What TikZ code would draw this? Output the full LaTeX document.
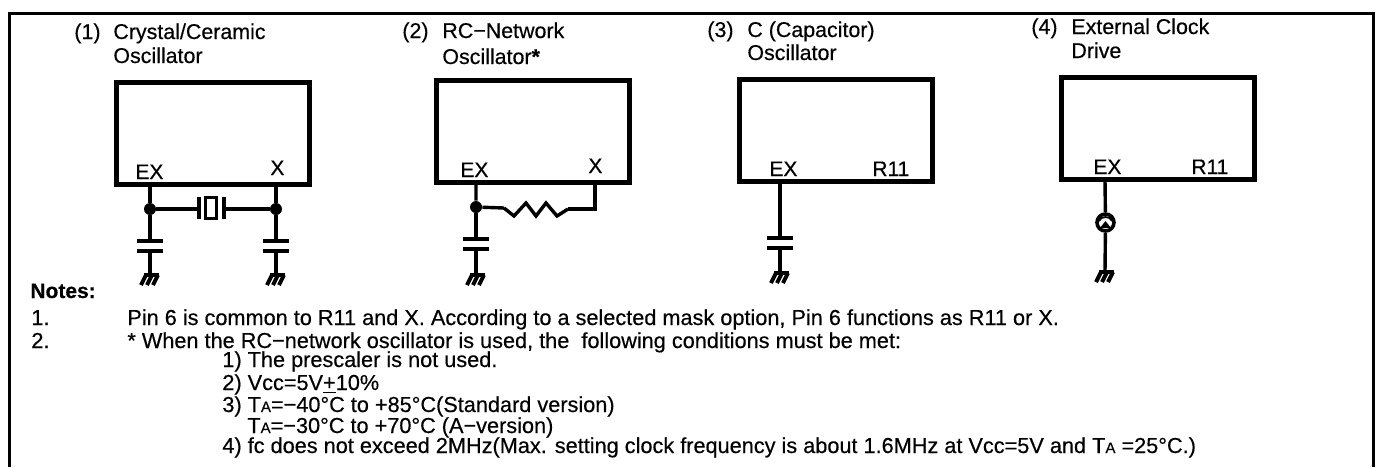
\documentclass[tikz,border=0pt]{standalone}
\usepackage{fontspec}
\setmainfont{Liberation Sans}[RawFeature={embolden=0.4}]
\tikzset{
  chipbox/.style={draw,rectangle,line width=2.5pt,inner sep=0pt,minimum width=96.5pt,minimum height=51pt},
  wire/.style={line width=1.7pt},
  plateline/.style={line width=2pt},
  junction/.style={circle,fill=black,inner sep=0pt,minimum size=6pt},
  titletext/.style={anchor=base west,inner sep=0pt,font=\fontsize{10.7}{13}\selectfont},
  pintext/.style={anchor=base west,inner sep=0pt,font=\fontsize{10.5}{13}\selectfont},
  notetext/.style={anchor=base west,inner sep=0pt,font=\fontsize{10.85}{12}\selectfont},
  pics/capplate/.style={code={\draw[plateline] (-13,0) -- (13,0);}},
  pics/earth/.style={code={
    \draw[plateline] (-6,0) -- (9,0);
    \foreach \dx in {-4,2,8} \draw[plateline] (\dx,0) -- ++(-5,10);
  }}
}
\newcommand{\tasub}{T{\fontsize{7.5}{8}\selectfont A}}
\begin{document}
\begin{tikzpicture}[x=0.5pt,y=-0.5pt]
    \useasboundingbox (0,0) rectangle (1377,467);
    \draw[line width=1.5pt] (9,467) -- (9,13) -- (1373,13) -- (1373,467);

    \node[titletext] (numA) at (74,39) {(1)};
    \node[titletext] (titleA) at (113,39) {Crystal/Ceramic};
    \node[titletext] (subA) at (113,63) {Oscillator};
    \node[chipbox] (chipA) at (212.5,133) {};
    \node[pintext] (pinExA) at (135,179) {EX};
    \node[pintext] (pinXA) at (270,175) {X};
    \coordinate (exA) at (150,184);
    \coordinate (xA) at (276,184);
    \node[junction] (dotA) at (150,209) {};
    \node[junction] (dotB) at (276,209) {};
    \coordinate (plateLA) at (199,209);
    \coordinate (plateRA) at (224,209);
    \node[draw,rectangle,line width=1.5pt,inner sep=0pt,minimum width=5.5pt,minimum height=10.5pt] (xtalA) at (211,208) {};
    \draw[wire] (exA) -- (dotA) -- (plateLA);
    \draw[wire] (xA) -- (dotB) -- (plateRA);
    \draw[plateline] (199,197) -- (199,219);
    \draw[plateline] (224,197) -- (224,219);
    \coordinate (capA1) at (150,241);
    \coordinate (capA2) at (150,251);
    \coordinate (gndA) at (150,275);
    \coordinate (capB1) at (276,241);
    \coordinate (capB2) at (276,251);
    \coordinate (gndB) at (276,275);
    \draw[wire] (dotA) -- (capA1);
    \draw[wire] (capA2) -- (gndA);
    \draw[wire] (dotB) -- (capB1);
    \draw[wire] (capB2) -- (gndB);
    \pic at (capA1) {capplate};
    \pic at (capA2) {capplate};
    \pic at (capB1) {capplate};
    \pic at (capB2) {capplate};
    \pic at (gndA) {earth};
    \pic at (gndB) {earth};

    \node[titletext] (numB) at (402,38) {(2)};
    \node[titletext] (titleB) at (442,38) {RC−Network};
    \node[titletext] (subB) at (442,64) {Oscillator\textbf{*}};
    \node[chipbox] (chipB) at (533,131.5) {};
    \node[pintext] (pinExB) at (460,177) {EX};
    \node[pintext] (pinXB) at (588,173) {X};
    \coordinate (exB) at (476,183);
    \coordinate (xB) at (595,183);
    \node[junction] (dotC) at (476,207) {};
    \coordinate (resL) at (504,208);
    \coordinate (resR) at (568,209);
    \coordinate (cornerB) at (595,209);
    \draw[wire] (exB) -- (dotC) -- (resL);
    \draw[wire] (resL) -- (514,216) -- (526,203) -- (536,216) -- (546,203) -- (557,216) -- (resR);
    \draw[wire] (resR) -- (cornerB) -- (xB);
    \coordinate (capC1) at (476,239);
    \coordinate (capC2) at (476,249);
    \coordinate (gndC) at (476,275);
    \draw[wire] (dotC) -- (capC1);
    \draw[wire] (capC2) -- (gndC);
    \pic at (capC1) {capplate};
    \pic at (capC2) {capplate};
    \pic at (gndC) {earth};

    \node[titletext] (numC) at (707,37) {(3)};
    \node[titletext] (titleC) at (747,37) {C (Capacitor)};
    \node[titletext] (subC) at (747,60) {Oscillator};
    \node[chipbox] (chipC) at (835.5,130.5) {};
    \node[pintext] (pinExC) at (769,176) {EX};
    \node[pintext] (pinRC) at (872,176) {R11};
    \coordinate (exC) at (780,182);
    \coordinate (capD1) at (780,238);
    \coordinate (capD2) at (780,248);
    \coordinate (gndD) at (780,273);
    \draw[wire] (exC) -- (capD1);
    \draw[wire] (capD2) -- (gndD);
    \pic at (capD1) {capplate};
    \pic at (capD2) {capplate};
    \pic at (gndD) {earth};

    \node[titletext] (numD) at (1031,34) {(4)};
    \node[titletext] (titleD) at (1071,34) {External Clock};
    \node[titletext] (subD) at (1071,58) {Drive};
    \node[chipbox] (chipD) at (1157.5,128.5) {};
    \node[pintext] (pinExD) at (1093,174) {EX};
    \node[pintext] (pinRD) at (1191,174) {R11};
    \coordinate (exD) at (1105,180);
    \coordinate (gndE) at (1105,272);
    \node[draw,circle,line width=1.8pt,inner sep=0pt,minimum size=8.5pt] (clockD) at (1105.5,222.5) {};
    \draw[wire] (exD) -- (clockD);
    \draw[wire] (clockD) -- (gndE);
    \draw[line width=0.9pt] (1099,221) to[out=70,in=180] (1105.5,217) to[out=0,in=110] (1112,221);
    \fill (1100,228) -- (1105.5,221) -- (1111,228) -- cycle;
    \pic at (gndE) {earth};

    \node[notetext,font=\fontsize{10.5}{12}\selectfont\bfseries] (notes) at (30,298) {Notes:};
    \node[notetext] (noteOneNum) at (31,325) {1.};
    \node[notetext] (noteOne) at (127,325) {Pin 6 is common to R11 and X. According to a selected mask option, Pin 6 functions as R11 or X.};
    \node[notetext] (noteTwoNum) at (31,348) {2.};
    \node[notetext] (noteTwo) at (127,348) {* When the RC−network oscillator is used, the\ \ following conditions must be met:};
    \node[notetext] (condOne) at (222,367) {1) The prescaler is not used.};
    \node[notetext] (condTwo) at (222,390) {2) Vcc=5V\underline{+}10\%};
    \node[notetext] (condThree) at (222,412) {3) \tasub=−40°C to +85°C(Standard version)};
    \node[notetext] (condThreeB) at (247,433) {\tasub=−30°C to +70°C (A−version)};
    \node[notetext] (condFour) at (222,453) {4) fc does not exceed 2MHz(Max. setting clock frequency is about 1.6MHz at Vcc=5V and \tasub\ =25°C.)};
\end{tikzpicture}
\end{document}
